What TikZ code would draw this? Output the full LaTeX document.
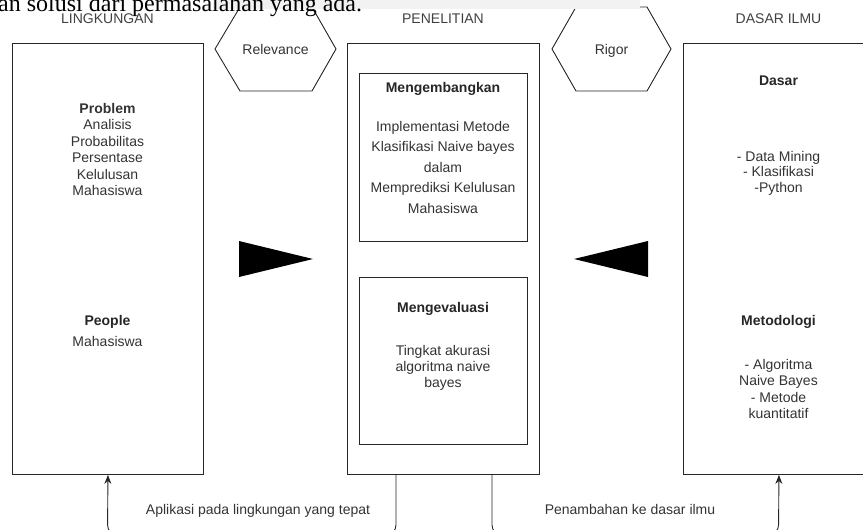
\documentclass[tikz,border=0pt]{standalone}
\usepackage{fontspec}
\setmainfont{Liberation Sans}
\newfontfamily\topserif{Liberation Serif}
\usetikzlibrary{arrows.meta}
\begin{document}
\begin{tikzpicture}[x=1pt,y=-1pt,
  box/.style={draw=black!85, line width=0.9pt, inner sep=0pt, anchor=north west},
  txt/.style={text=black!80, font=\fontsize{14}{16.5}\selectfont, align=center, inner sep=0pt},
  ttl/.style={text=black!85, font=\fontsize{14}{16.5}\selectfont\bfseries, inner sep=0pt, anchor=base},
  hdr/.style={text=black!75, font=\fontsize{14}{16.5}\selectfont, inner sep=0pt, anchor=base},
  hexa/.style={draw=black!85, line width=0.9pt},
  tri/.style={fill=black},
  conn/.style={draw=black!85, line width=0.9pt, rounded corners=10pt, -{Stealth[length=9pt,width=7pt]}},
  lbl/.style={text=black!80, font=\fontsize{14}{16.5}\selectfont, inner sep=0pt, anchor=base}
]
\useasboundingbox (0,0) rectangle (863,530);
\begin{scope}
\clip (0,0) rectangle (863,530);

% headers
\node[hdr] (hL) at (107.5,23.5) {LINGKUNGAN};
\node[hdr] (hM) at (443,23.5) {PENELITIAN};
\node[hdr] (hR) at (778.5,23.5) {DASAR ILMU};

% main boxes
\node[box, minimum width=191, minimum height=431] (L) at (12,43) {};
\node[box, minimum width=192, minimum height=431] (M) at (347,43) {};
\node[box, minimum width=191, minimum height=431] (R) at (683,43) {};
\node[box, minimum width=168, minimum height=168] (M1) at (359,73) {};
\node[box, minimum width=168, minimum height=167] (M2) at (359,277) {};

% left box texts
\node[txt, anchor=north] (prob) at (107.5,103) {\textbf{Problem}\\Analisis\\Probabilitas\\Persentase\\Kelulusan\\Mahasiswa};
\node[ttl] (peop) at (107.5,325) {People};
\node[lbl] (peopb) at (107.5,346) {Mahasiswa};

% middle box texts
\node[ttl] (dev) at (443,92) {Mengembangkan};
\node[txt, anchor=north, font=\fontsize{14}{20.5}\selectfont] (devb) at (443,121) {Implementasi Metode\\Klasifikasi Naive bayes\\dalam\\Memprediksi Kelulusan\\Mahasiswa};
\node[ttl] (eva) at (443,312) {Mengevaluasi};
\node[txt, anchor=north, font=\fontsize{14}{16}\selectfont] (evab) at (443,345) {Tingkat akurasi\\algoritma naive\\bayes};

% right box texts
\node[ttl] (das) at (778.5,85) {Dasar};
\node[txt, anchor=north, font=\fontsize{14}{15.5}\selectfont] (dasb) at (778.5,151) {- Data Mining\\- Klasifikasi\\-Python};
\node[ttl] (met) at (778.5,325) {Metodologi};
\node[txt, anchor=north] (metb) at (778.5,359) {- Algoritma\\Naive Bayes\\- Metode\\kuantitatif};

% hexagons
\draw[hexa] (215,49) -- (240,91) -- (312,91) -- (336,49) -- (312,7) -- (240,7) -- cycle;
\node[lbl] (rel) at (275.5,54) {Relevance};
\draw[hexa] (552,49) -- (576,91) -- (647,91) -- (671,49) -- (647,7) -- (576,7) -- cycle;
\node[lbl] (rig) at (611.5,54) {Rigor};

% big triangles
\fill[tri] (239,241) -- (239,277) -- (313,259) -- cycle;
\fill[tri] (648,241) -- (648,277) -- (574,259) -- cycle;

% connectors
\coordinate (m1) at (396,474);
\coordinate (m2) at (492,474);
\draw[conn] (m1) -- (396,535) -- (107.5,535) -- (L.south);
\draw[conn] (m2) -- (492,535) -- (778.5,535) -- (R.south);
\node[lbl] (la) at (258,514) {Aplikasi pada lingkungan yang tepat};
\node[lbl] (lb) at (630,514) {Penambahan ke dasar ilmu};

% overlay of page text at the top
\fill[black!5] (213,0) rectangle (640,9);
\node[anchor=base west, inner sep=0pt, text=black, font=\topserif\fontsize{24}{28}\selectfont] (top) at (-2,11.5) {an solusi dari permasalahan yang ada.};
\end{scope}
\end{tikzpicture}
\end{document}
